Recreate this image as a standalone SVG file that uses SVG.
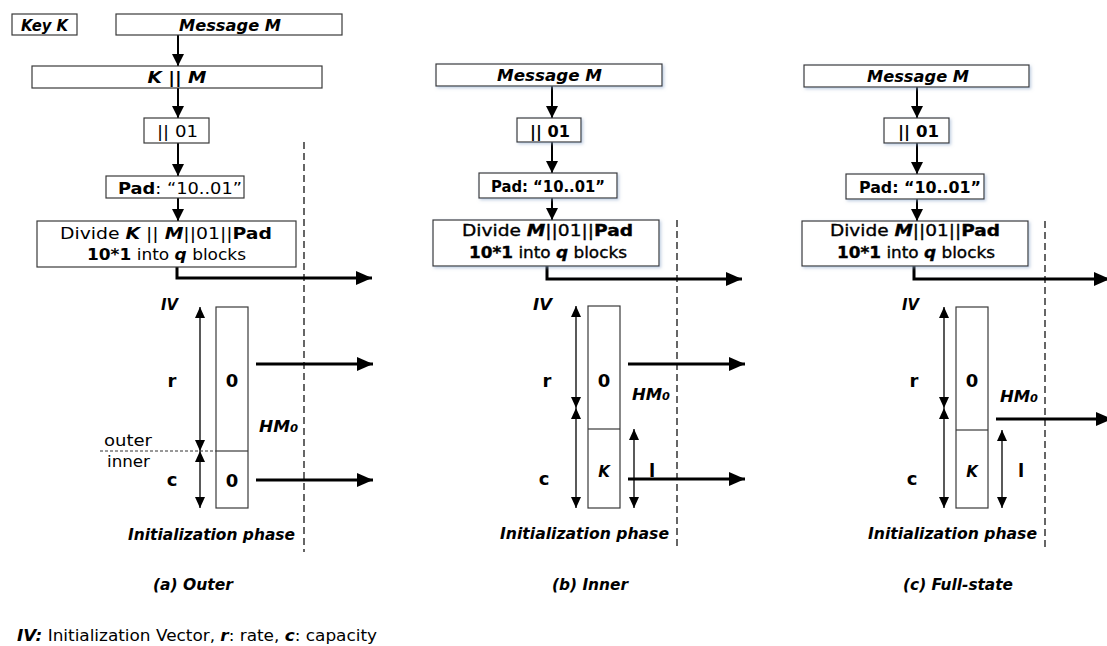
<svg xmlns="http://www.w3.org/2000/svg" width="1107" height="646" viewBox="0 0 1107 646">
<style>
.box{fill:#fff;stroke:#3a3a3a;stroke-width:1.2}
.sh{filter:url(#sh)}
.t{font-family:"DejaVu Sans","Liberation Sans",sans-serif;font-size:16px;fill:#000}
.m{text-anchor:middle}
.bi{font-weight:bold;font-style:italic}
.b{font-weight:bold}
.i{font-style:italic}
.sb{stroke:#000;stroke-width:0.35}
.lb{font-size:15px;font-weight:bold;font-style:italic}
.lb16{font-size:16px;font-weight:bold;font-style:italic}
.big{font-size:18px;font-weight:bold}
.conn{stroke:#000;stroke-width:2;fill:none;marker-end:url(#ah)}
.thick{stroke:#000;stroke-width:3;fill:none;marker-end:url(#ahL)}
.dbl{stroke:#000;stroke-width:1.3;fill:none;marker-start:url(#ahT);marker-end:url(#ahT)}
.dash{stroke:#000;stroke-width:1.2;stroke-dasharray:7 4;fill:none}
.dash2{stroke:#333;stroke-width:1;stroke-dasharray:3 2;fill:none}
.div{stroke:#3a3a3a;stroke-width:1.2}
</style>
<defs>
<marker id="ah" viewBox="0 0 10 10" refX="10" refY="5" markerWidth="12" markerHeight="12" markerUnits="userSpaceOnUse" orient="auto"><path d="M0,0L10,5L0,10z" fill="#000"/></marker>
<marker id="ahL" viewBox="0 0 16 14" refX="16" refY="7" markerWidth="16" markerHeight="14" markerUnits="userSpaceOnUse" orient="auto"><path d="M0,0L16,7L0,14z" fill="#000"/></marker>
<marker id="ahT" viewBox="0 0 11 10" refX="11" refY="5" markerWidth="11" markerHeight="10" markerUnits="userSpaceOnUse" orient="auto-start-reverse"><path d="M0,0L11,5L0,10z" fill="#000"/></marker>
<filter id="sh" x="-10%" y="-40%" width="120%" height="180%"><feDropShadow dx="1.5" dy="1.5" stdDeviation="1.5" flood-color="#8aa4c8" flood-opacity="0.55"/></filter>
</defs>

<g id="connectors">
  <!-- panel a -->
  <line class="conn" x1="178" y1="35" x2="178" y2="66"/>
  <line class="conn" x1="178" y1="88" x2="178" y2="118"/>
  <line class="conn" x1="178" y1="143" x2="178" y2="176"/>
  <line class="conn" x1="178" y1="198" x2="178" y2="221"/>
  <path class="thick" d="M177,267V278H372"/>
  <line class="thick" x1="256" y1="364" x2="373" y2="364"/>
  <line class="thick" x1="256" y1="480" x2="373" y2="480"/>
  <line class="dbl" x1="200" y1="307" x2="200" y2="451"/>
  <line class="dbl" x1="200" y1="451" x2="200" y2="508"/>
  <line class="dash" x1="304" y1="142" x2="304" y2="552"/>
  <line class="dash2" x1="100" y1="451" x2="216" y2="451"/>
  <!-- panel b -->
  <line class="conn" x1="552" y1="86" x2="552" y2="118"/>
  <line class="conn" x1="552" y1="142" x2="552" y2="173"/>
  <line class="conn" x1="552" y1="198" x2="552" y2="220"/>
  <path class="thick" d="M547,266V279H742"/>
  <line class="thick" x1="628" y1="364" x2="745" y2="364"/>
  <line class="thick" x1="628" y1="479" x2="745" y2="479"/>
  <line class="dbl" x1="576" y1="306" x2="576" y2="408"/>
  <line class="dbl" x1="576" y1="408" x2="576" y2="508"/>
  <line class="dbl" x1="634" y1="429" x2="634" y2="508"/>
  <line class="dash" x1="677" y1="220" x2="677" y2="548"/>
  <!-- panel c -->
  <line class="conn" x1="917" y1="87" x2="917" y2="118"/>
  <line class="conn" x1="917" y1="143" x2="917" y2="174"/>
  <line class="conn" x1="917" y1="199" x2="917" y2="221"/>
  <path class="thick" d="M914,266V279H1110"/>
  <line class="thick" x1="996" y1="419" x2="1112" y2="419"/>
  <line class="dbl" x1="944" y1="307" x2="944" y2="408"/>
  <line class="dbl" x1="944" y1="408" x2="944" y2="508"/>
  <line class="dbl" x1="1002" y1="430" x2="1002" y2="508"/>
  <line class="dash" x1="1045" y1="221" x2="1045" y2="548"/>
</g>

<!-- Panel a -->
<g id="a-key">
  <rect class="box" x="12" y="14" width="65" height="21"/>
  <text class="t lb m" x="44.5" y="31" textLength="47" lengthAdjust="spacingAndGlyphs">Key K</text>
</g>
<g id="a-msg">
  <rect class="box" x="116" y="14" width="226" height="21"/>
  <text class="t lb16 m" x="230" y="31" textLength="102" lengthAdjust="spacingAndGlyphs">Message M</text>
</g>
<g id="a-km">
  <rect class="box" x="32" y="66" width="290" height="22"/>
  <text class="t m" x="177" y="83" font-size="17" textLength="59" lengthAdjust="spacingAndGlyphs"><tspan class="bi">K</tspan><tspan class="b"> || </tspan><tspan class="bi">M</tspan></text>
</g>
<g id="a-01">
  <rect class="box" x="144" y="118" width="65" height="25"/>
  <text class="t m" x="177.5" y="137" font-size="17" textLength="41" lengthAdjust="spacingAndGlyphs">|| 01</text>
</g>
<g id="a-pad">
  <rect class="box" x="106" y="176" width="138" height="22"/>
  <text class="t m" x="180" y="194" font-size="17" textLength="124" lengthAdjust="spacingAndGlyphs"><tspan class="b">Pad</tspan>: “10..01”</text>
</g>
<g id="a-divide">
  <rect class="box" x="37" y="221" width="259" height="46"/>
  <text class="t m" x="166" y="239" font-size="17" textLength="212" lengthAdjust="spacingAndGlyphs">Divide <tspan class="bi">K</tspan> || <tspan class="bi">M</tspan>||01||<tspan class="b">Pad</tspan></text>
  <text class="t m" x="166.5" y="260" font-size="17" textLength="159" lengthAdjust="spacingAndGlyphs"><tspan class="b">10*1</tspan> into <tspan class="bi">q</tspan> blocks</text>
</g>
<g id="a-state">
  <text class="t lb16" x="161" y="310" textLength="17" lengthAdjust="spacingAndGlyphs">IV</text>
  <rect class="box" x="216" y="307" width="32" height="201"/>
  <line class="div" x1="216" y1="451" x2="248" y2="451"/>
  <text class="t big m" x="232" y="387">0</text>
  <text class="t big m" x="232" y="487">0</text>
  <text class="t big m" x="172" y="387">r</text>
  <text class="t big m" x="172" y="486">c</text>
  <text class="t lb16" x="259" y="432" textLength="39" lengthAdjust="spacingAndGlyphs">HM<tspan font-size="11">0</tspan></text>
  <text class="t" x="104" y="446" font-size="17" textLength="48" lengthAdjust="spacingAndGlyphs">outer</text>
  <text class="t" x="107" y="467" font-size="17" textLength="43" lengthAdjust="spacingAndGlyphs">inner</text>
  <text class="t lb16" x="128" y="540" textLength="167" lengthAdjust="spacingAndGlyphs">Initialization phase</text>
  <text class="t lb16" x="153" y="590" textLength="80" lengthAdjust="spacingAndGlyphs">(a) Outer</text>
</g>

<!-- Panel b -->
<g id="b-msg">
  <rect class="box sh" x="436" y="64" width="226" height="22"/>
  <text class="t lb16 m" x="549.5" y="81" textLength="105" lengthAdjust="spacingAndGlyphs">Message M</text>
</g>
<g id="b-01">
  <rect class="box sh" x="517" y="118" width="64" height="24"/>
  <text class="t b m" x="550" y="137" font-size="17" textLength="40" lengthAdjust="spacingAndGlyphs">|| 01</text>
</g>
<g id="b-pad">
  <rect class="box sh" x="479" y="173" width="138" height="25"/>
  <text class="t b m" x="548" y="192" font-size="17" textLength="114" lengthAdjust="spacingAndGlyphs">Pad: “10..01”</text>
</g>
<g id="b-divide">
  <rect class="box sh" x="433" y="220" width="226" height="46"/>
  <text class="t sb m" x="547.5" y="236" font-size="17" textLength="171" lengthAdjust="spacingAndGlyphs">Divide <tspan class="bi">M</tspan>||01||<tspan class="b">Pad</tspan></text>
  <text class="t sb m" x="548" y="258" font-size="17" textLength="158" lengthAdjust="spacingAndGlyphs"><tspan class="b">10*1</tspan> into <tspan class="bi">q</tspan> blocks</text>
</g>
<g id="b-state">
  <text class="t lb16" x="533" y="310" textLength="19" lengthAdjust="spacingAndGlyphs">IV</text>
  <rect class="box" x="588" y="306" width="32" height="202"/>
  <line class="div" x1="588" y1="429" x2="620" y2="429"/>
  <text class="t big m" x="604" y="387">0</text>
  <text class="t lb m" x="604" y="477" font-size="18">K</text>
  <text class="t big m" x="547" y="387">r</text>
  <text class="t big m" x="544" y="485">c</text>
  <text class="t big m" x="652" y="477">l</text>
  <text class="t lb16" x="632" y="400" textLength="38" lengthAdjust="spacingAndGlyphs">HM<tspan font-size="11">0</tspan></text>
  <text class="t lb16" x="500" y="539" textLength="169" lengthAdjust="spacingAndGlyphs">Initialization phase</text>
  <text class="t lb16" x="552" y="590" textLength="76" lengthAdjust="spacingAndGlyphs">(b) Inner</text>
</g>

<!-- Panel c -->
<g id="c-msg">
  <rect class="box sh" x="804" y="65" width="225" height="22"/>
  <text class="t lb16 m" x="918" y="82" textLength="102" lengthAdjust="spacingAndGlyphs">Message M</text>
</g>
<g id="c-01">
  <rect class="box sh" x="884" y="118" width="65" height="25"/>
  <text class="t b m" x="918.5" y="137" font-size="17" textLength="41" lengthAdjust="spacingAndGlyphs">|| 01</text>
</g>
<g id="c-pad">
  <rect class="box sh" x="846" y="174" width="138" height="25"/>
  <text class="t b m" x="920" y="193" font-size="17" textLength="122" lengthAdjust="spacingAndGlyphs">Pad: “10..01”</text>
</g>
<g id="c-divide">
  <rect class="box sh" x="802" y="221" width="226" height="45"/>
  <text class="t sb m" x="915" y="236" font-size="17" textLength="170" lengthAdjust="spacingAndGlyphs">Divide <tspan class="bi">M</tspan>||01||<tspan class="b">Pad</tspan></text>
  <text class="t sb m" x="916" y="258" font-size="17" textLength="158" lengthAdjust="spacingAndGlyphs"><tspan class="b">10*1</tspan> into <tspan class="bi">q</tspan> blocks</text>
</g>
<g id="c-state">
  <text class="t lb16" x="902" y="310" textLength="17" lengthAdjust="spacingAndGlyphs">IV</text>
  <rect class="box" x="956" y="307" width="32" height="201"/>
  <line class="div" x1="956" y1="430" x2="988" y2="430"/>
  <text class="t big m" x="972" y="387">0</text>
  <text class="t lb m" x="972" y="477" font-size="18">K</text>
  <text class="t big m" x="914" y="387">r</text>
  <text class="t big m" x="912" y="485">c</text>
  <text class="t big m" x="1021" y="477">l</text>
  <text class="t lb16" x="1000" y="402" textLength="38" lengthAdjust="spacingAndGlyphs">HM<tspan font-size="11">0</tspan></text>
  <text class="t lb16" x="868" y="539" textLength="169" lengthAdjust="spacingAndGlyphs">Initialization phase</text>
  <text class="t lb16" x="903" y="590" textLength="110" lengthAdjust="spacingAndGlyphs">(c) Full-state</text>
</g>

<g id="footer">
  <text class="t" x="17" y="641" font-size="17" textLength="360" lengthAdjust="spacingAndGlyphs"><tspan class="bi">IV:</tspan> Initialization Vector, <tspan class="bi">r</tspan>: rate, <tspan class="bi">c</tspan>: capacity</text>
</g>
</svg>
